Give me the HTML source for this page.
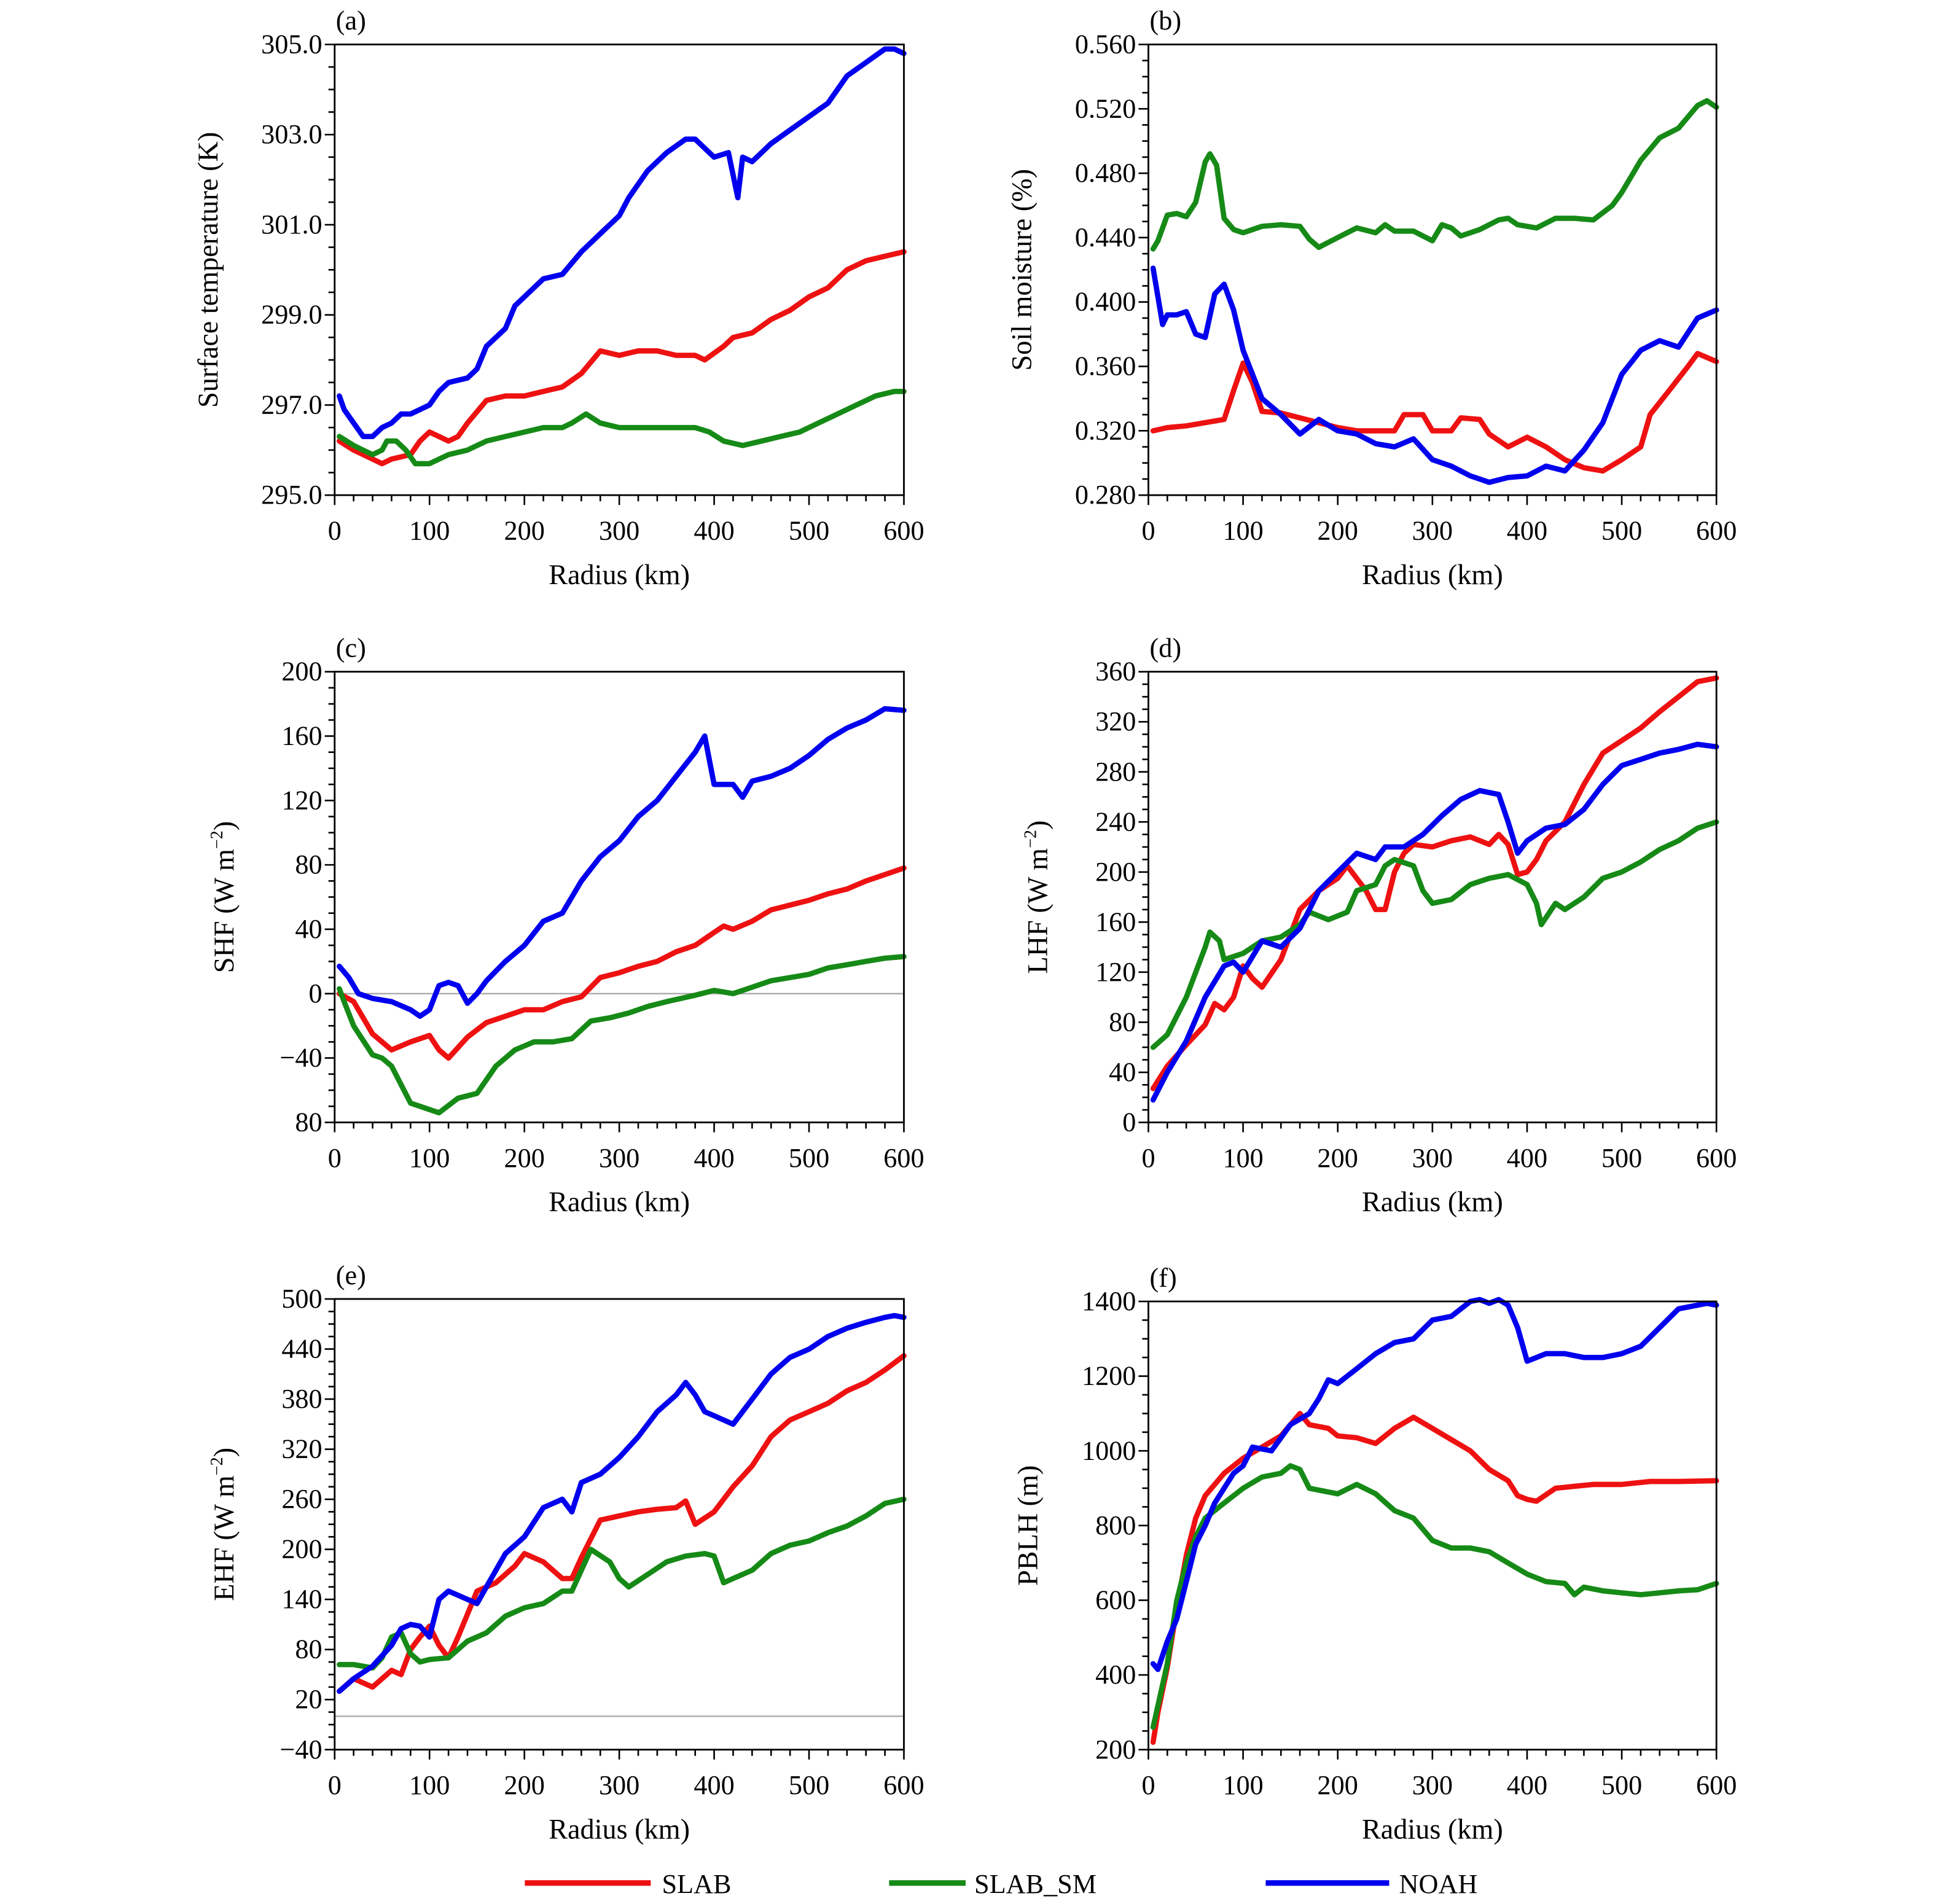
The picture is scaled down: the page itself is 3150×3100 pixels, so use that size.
<!DOCTYPE html>
<html><head><meta charset="utf-8"><style>
html,body{margin:0;padding:0;background:#fff}
svg{display:block}
text{font-family:"Liberation Serif",serif;fill:#000}
</style></head><body>
<svg id="fig" width="3150" height="3100" viewBox="0 0 1567 1542" preserveAspectRatio="none" xmlns="http://www.w3.org/2000/svg">
<g>
<line x1="425" y1="1525" x2="527" y2="1525" stroke="#ee1111" stroke-width="4.5"/>
<text x="536" y="1533" font-size="22">SLAB</text>
<line x1="720" y1="1525" x2="782" y2="1525" stroke="#168a16" stroke-width="4.5"/>
<text x="789" y="1533" font-size="22">SLAB_SM</text>
<line x1="1025" y1="1525" x2="1125" y2="1525" stroke="#0000ee" stroke-width="4.5"/>
<text x="1133" y="1533" font-size="22">NOAH</text>
</g>
</svg>
<script>
// Panel (a) Surface temperature
const aRedX=[5,20,40,50,60,80,90,100,110,120,130,140,160,180,200,220,240,260,280,300,320,340,360,380,390,410,420,440,460,480,500,520,540,560,580,600];
const aRedY=[296.2,296.0,295.8,295.7,295.8,295.9,296.2,296.4,296.3,296.2,296.3,296.6,297.1,297.2,297.2,297.3,297.4,297.7,298.2,298.1,298.2,298.2,298.1,298.1,298.0,298.3,298.5,298.6,298.9,299.1,299.4,299.6,300.0,300.2,300.3,300.4];
const aGrnX=[5,20,40,50,55,65,75,85,100,120,140,160,180,200,220,240,250,265,280,300,320,340,360,380,395,410,430,450,470,490,510,530,550,570,590,600];
const aGrnY=[296.3,296.1,295.9,296.0,296.2,296.2,296.0,295.7,295.7,295.9,296.0,296.2,296.3,296.4,296.5,296.5,296.6,296.8,296.6,296.5,296.5,296.5,296.5,296.5,296.4,296.2,296.1,296.2,296.3,296.4,296.6,296.8,297.0,297.2,297.3,297.3];
const aBluX=[5,10,20,30,40,50,60,70,80,90,100,110,120,140,150,160,180,190,200,220,240,260,280,300,310,330,350,370,380,400,415,425,430,440,460,480,500,520,540,560,580,590,600];
const aBluY=[297.2,296.9,296.6,296.3,296.3,296.5,296.6,296.8,296.8,296.9,297.0,297.3,297.5,297.6,297.8,298.3,298.7,299.2,299.4,299.8,299.9,300.4,300.8,301.2,301.6,302.2,302.6,302.9,302.9,302.5,302.6,301.6,302.5,302.4,302.8,303.1,303.4,303.7,304.3,304.6,304.9,304.9,304.8];
const aTicks=["295.0","297.0","299.0","301.0","303.0","305.0"];
// Panel (b) Soil moisture
const bRedX=[5,20,40,60,80,90,100,110,120,140,160,180,200,220,260,270,290,300,320,330,350,360,380,400,420,440,460,480,500,520,530,550,570,580,600];
const bRedY=[0.32,0.322,0.323,0.325,0.327,0.345,0.362,0.35,0.332,0.331,0.328,0.325,0.322,0.32,0.32,0.33,0.33,0.32,0.32,0.328,0.327,0.318,0.31,0.316,0.31,0.302,0.297,0.295,0.302,0.31,0.33,0.345,0.36,0.368,0.363];
const bGrnX=[5,10,20,30,40,50,60,65,72,80,90,100,120,140,160,170,180,200,220,240,250,260,280,300,310,320,330,350,370,380,390,410,430,450,470,490,500,520,540,560,580,590,600];
const bGrnY=[0.433,0.438,0.454,0.455,0.453,0.462,0.487,0.492,0.485,0.452,0.445,0.443,0.447,0.448,0.447,0.439,0.434,0.44,0.446,0.443,0.448,0.444,0.444,0.438,0.448,0.446,0.441,0.445,0.451,0.452,0.448,0.446,0.452,0.452,0.451,0.46,0.468,0.488,0.502,0.508,0.522,0.525,0.521];
const bBluX=[5,15,20,30,40,50,60,70,80,90,100,110,120,140,160,180,200,220,240,260,280,300,320,340,360,380,400,420,440,460,480,500,520,540,560,580,600];
const bBluY=[0.421,0.386,0.392,0.392,0.394,0.38,0.378,0.405,0.411,0.395,0.37,0.355,0.34,0.33,0.318,0.327,0.32,0.318,0.312,0.31,0.315,0.302,0.298,0.292,0.288,0.291,0.292,0.298,0.295,0.308,0.325,0.355,0.37,0.376,0.372,0.39,0.395];
const bTicks=["0.280","0.320","0.360","0.400","0.440","0.480","0.520","0.560"];
// Panel (c) SHF
const cRedX=[5,20,40,60,80,100,110,120,140,160,180,200,220,240,260,280,300,320,340,360,380,400,410,420,440,460,480,500,520,540,560,580,600];
const cRedY=[0,-5,-25,-35,-30,-26,-35,-40,-27,-18,-14,-10,-10,-5,-2,10,13,17,20,26,30,38,42,40,45,52,55,58,62,65,70,74,78];
const cGrnX=[5,10,20,40,50,60,80,100,110,130,150,170,190,210,230,250,270,290,310,330,350,380,400,420,440,460,480,500,520,540,560,580,600];
const cGrnY=[3,-5,-20,-38,-40,-45,-68,-72,-74,-65,-62,-45,-35,-30,-30,-28,-17,-15,-12,-8,-5,-1,2,0,4,8,10,12,16,18,20,22,23];
const cBluX=[5,15,25,40,60,80,90,100,110,120,130,140,150,160,180,200,220,240,260,280,300,320,340,360,380,390,400,420,430,440,460,480,500,520,540,560,580,600];
const cBluY=[17,10,0,-3,-5,-10,-14,-10,5,7,5,-6,0,8,20,30,45,50,70,85,95,110,120,135,150,160,130,130,122,132,135,140,148,158,165,170,177,176];
const cTicks=["80","\u221240","0","40","80","120","160","200"];
// Panel (d) LHF
const dRedX=[5,20,40,60,70,80,90,100,110,120,140,160,180,200,210,230,240,250,260,270,280,300,320,340,360,370,380,390,400,410,420,440,460,480,500,520,540,560,580,600];
const dRedY=[27,45,62,78,95,90,100,125,115,108,130,170,185,195,205,185,170,170,200,215,222,220,225,228,222,230,222,198,200,210,225,240,270,295,305,315,328,340,352,355];
const dGrnX=[5,20,40,60,65,75,80,100,120,140,160,170,190,210,220,240,250,260,280,290,300,320,340,360,380,400,410,415,430,440,460,480,500,520,540,560,580,600];
const dGrnY=[60,70,100,140,152,145,130,135,145,148,158,168,162,168,185,190,205,210,205,185,175,178,190,195,198,190,175,158,175,170,180,195,200,208,218,225,235,240];
const dBluX=[5,20,40,60,80,90,100,120,140,160,180,200,220,240,250,270,290,310,330,350,370,380,390,400,420,440,460,480,500,520,540,560,580,600];
const dBluY=[18,40,65,100,125,128,120,145,140,155,185,200,215,210,220,220,230,245,258,265,262,240,215,225,235,238,250,270,285,290,295,298,302,300];
const dTicks=["0","40","80","120","160","200","240","280","320","360"];
// Panel (e) EHF
const eRedX=[5,20,40,60,70,80,90,100,110,120,130,150,170,190,200,220,240,250,260,280,300,320,340,360,370,380,400,420,440,460,480,500,520,540,560,580,600];
const eRedY=[30,45,35,55,50,80,95,108,85,70,95,150,160,180,195,185,165,165,190,235,240,245,248,250,258,230,245,275,300,335,355,365,375,390,400,415,432];
const eGrnX=[5,20,40,50,60,70,80,90,100,120,140,160,180,200,220,240,250,260,270,290,300,310,330,350,370,390,400,410,420,440,460,480,500,520,540,560,580,600];
const eGrnY=[62,62,58,70,95,100,75,65,68,70,90,100,120,130,135,150,150,175,200,185,165,155,170,185,192,195,192,160,165,175,195,205,210,220,228,240,255,260];
const eBluX=[5,20,40,60,70,80,90,100,110,120,140,150,160,180,200,220,240,250,260,280,300,320,340,360,370,380,390,400,420,440,460,480,500,520,540,560,580,590,600];
const eBluY=[30,45,60,85,105,110,108,95,140,150,140,135,155,195,215,250,260,245,280,290,310,335,365,385,400,385,365,360,350,380,410,430,440,455,465,472,478,480,478];
const eTicks=["\u221240","20","80","140","200","260","320","380","440","500"];
// Panel (f) PBLH
const fRedX=[5,10,20,30,40,50,60,80,100,120,140,160,170,190,200,220,240,260,280,300,320,340,360,380,390,400,410,430,450,470,500,530,560,600];
const fRedY=[220,300,420,580,720,820,880,940,980,1010,1040,1100,1070,1060,1040,1035,1020,1060,1090,1060,1030,1000,950,920,880,870,865,900,905,910,910,918,918,920];
const fGrnX=[5,20,30,40,50,60,80,100,120,140,150,160,170,200,220,240,260,280,300,320,340,360,380,400,420,440,450,460,480,500,520,540,560,580,600];
const fGrnY=[260,430,600,700,770,820,860,900,930,940,960,950,900,885,910,885,840,820,760,740,740,730,700,670,650,645,615,635,625,620,615,620,625,628,645];
const fBluX=[5,10,20,30,40,50,60,70,80,90,100,110,130,150,170,180,190,200,220,240,260,280,300,320,340,350,360,370,380,390,400,420,440,460,480,500,520,540,560,580,590,600];
const fBluY=[430,415,490,550,650,750,800,860,900,940,960,1010,1000,1070,1100,1140,1190,1180,1220,1260,1290,1300,1350,1360,1400,1405,1395,1405,1390,1330,1240,1260,1260,1250,1250,1260,1280,1330,1380,1390,1395,1390];
const fTicks=["200","400","600","800","1000","1200","1400"];
const xTicks=["0","100","200","300","400","500","600"];

const NS="http://www.w3.org/2000/svg";
const svg=document.getElementById('fig');
const RED="#ee1111",GRN="#168a16",BLU="#0000ee";
function mk(tag,attrs,parent){const e=document.createElementNS(NS,tag);for(const k in attrs)e.setAttribute(k,attrs[k]);parent.appendChild(e);return e;}

function panel(o){
  const g=mk('g',{},svg);
  
  
  const L=o.x0,R=o.x1,T=o.y0,B=o.y1;
  const sx=v=>L+(v-0)/600*(R-L);
  const sy=v=>B-(v-o.ymin)/(o.ymax-o.ymin)*(B-T);
  if(o.zero){const z=mk('line',{x1:L,x2:R,y1:sy(0),y2:sy(0),stroke:'#aaa','stroke-width':1.2},g);
    
    }
  const ser=[[o.rx,o.ry,RED,'slab'],[o.gx,o.gy,GRN,'slab-sm'],[o.bx,o.by,BLU,'noah']];
  ser.forEach(s=>{
    let d='';s[0].forEach((x,i)=>{d+=(i?'L':'M')+sx(x).toFixed(1)+','+sy(s[1][i]).toFixed(1);});
    const p=mk('path',{d:d,fill:'none',stroke:s[2],'stroke-width':4.3,'stroke-linejoin':'round','stroke-linecap':'round'},g);
    
    
  });
  const f=mk('rect',{x:L,y:T,width:R-L,height:B-T,fill:'none',stroke:'#000','stroke-width':1.4},g);
  
  
  for(let v=0;v<=600;v+=20){const maj=v%100===0;mk('line',{x1:sx(v),x2:sx(v),y1:B,y2:B+(maj?8:5),stroke:'#000','stroke-width':1.3},g);}
  xTicks.forEach((t,i)=>{const tx=mk('text',{x:sx(i*100),y:B+36,'font-size':22,'text-anchor':'middle'},g);tx.textContent=t;
    
    });
  const n=o.ticks.length-1,step=(o.ymax-o.ymin)/n;
  for(let i=0;i<=n*4;i++){const v=o.ymin+i*step/4;const maj=i%4===0;mk('line',{x1:L,x2:L-(maj?8:5),y1:sy(v),y2:sy(v),stroke:'#000','stroke-width':1.3},g);}
  o.ticks.forEach((t,i)=>{const tx=mk('text',{x:L-10,y:sy(o.ymin+i*step)+7,'font-size':22,'text-anchor':'end'},g);tx.textContent=t;
    
    });
  const xt=mk('text',{x:(L+R)/2,y:B+72,'font-size':23,'text-anchor':'middle'},g);xt.textContent='Radius (km)';
  
  
  const yt=mk('text',{x:0,y:0,'font-size':23,'text-anchor':'middle',transform:'translate('+(L-o.ytOff)+','+((T+B)/2)+') rotate(-90)'},g);
  yt.innerHTML=o.ytitle;
  
  
  const pl=mk('text',{x:L+1,y:T-12,'font-size':22},g);pl.textContent='('+o.id+')';
  
  
}
const WM='W m<tspan font-size="14" dy="-9">\u22122</tspan><tspan dy="9">)</tspan>';
panel({id:'a',x0:271,x1:732,y0:36,y1:401,ymin:295,ymax:305,ticks:aTicks,rx:aRedX,ry:aRedY,gx:aGrnX,gy:aGrnY,bx:aBluX,by:aBluY,ytitle:'Surface temperature (K)',ytOff:95});
panel({id:'b',x0:930,x1:1390,y0:36,y1:401,ymin:0.28,ymax:0.56,ticks:bTicks,rx:bRedX,ry:bRedY,gx:bGrnX,gy:bGrnY,bx:bBluX,by:bBluY,ytitle:'Soil moisture (%)',ytOff:95});
panel({id:'c',x0:271,x1:732,y0:544,y1:909,ymin:-80,ymax:200,ticks:cTicks,zero:true,rx:cRedX,ry:cRedY,gx:cGrnX,gy:cGrnY,bx:cBluX,by:cBluY,ytitle:'SHF ('+WM,ytOff:82});
panel({id:'d',x0:930,x1:1390,y0:544,y1:909,ymin:0,ymax:360,ticks:dTicks,rx:dRedX,ry:dRedY,gx:dGrnX,gy:dGrnY,bx:dBluX,by:dBluY,ytitle:'LHF ('+WM,ytOff:82});
panel({id:'e',x0:271,x1:732,y0:1052,y1:1417,ymin:-40,ymax:500,ticks:eTicks,zero:true,rx:eRedX,ry:eRedY,gx:eGrnX,gy:eGrnY,bx:eBluX,by:eBluY,ytitle:'EHF ('+WM,ytOff:82});
panel({id:'f',x0:930,x1:1390,y0:1054,y1:1417,ymin:200,ymax:1400,ticks:fTicks,rx:fRedX,ry:fRedY,gx:fGrnX,gy:fGrnY,bx:fBluX,by:fBluY,ytitle:'PBLH (m)',ytOff:90});
</script>
</body></html>
